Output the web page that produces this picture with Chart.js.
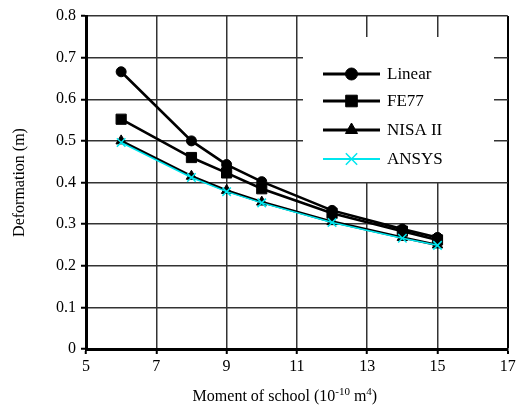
<!DOCTYPE html>
<html lang="en">
<head>
  <meta charset="UTF-8">
  <title>Deformation vs moment</title>
  <style>
    html, body {
      margin: 0;
      padding: 0;
      background: #ffffff;
    }
    #wrap {
      width: 516px;
      height: 407px;
    }
  </style>
  <script src="https://cdn.jsdelivr.net/npm/chart.js"></script>
</head>
<body>
  <div id="wrap"><canvas id="chart" width="516" height="407"></canvas></div>

  <script>
    // values
    const moments = [6, 8, 9, 10, 12, 14, 15];
    const linearDef = [0.666, 0.5, 0.443, 0.402, 0.333, 0.288, 0.268];
    const fe77Def = [0.552, 0.46, 0.423, 0.385, 0.326, 0.283, 0.262];
    const nisaDef = [0.5, 0.415, 0.381, 0.353, 0.306, 0.268, 0.25];
    const ansysDef = [0.496, 0.412, 0.378, 0.351, 0.304, 0.266, 0.249];
    const xTicks = [5, 7, 9, 11, 13, 15, 17];
    const yTicks = [0, 0.1, 0.2, 0.3, 0.4, 0.5, 0.6, 0.7, 0.8];
    // x title pieces: [text, superscript?]
    const xTitle = [['Moment of school (10', false], ['-10', true], [' m', false], ['4', true], [')', false]];

    const serif = "'Liberation Serif', 'Times New Roman', serif";
    const cyan = '#00e6ee';

    const toPoints = ys => moments.map((m, i) => ({ x: m, y: ys[i] }));

    const series = [
      { label: 'Linear', data: linearDef, color: '#000', style: 'circle', radius: 5, width: 2.6 },
      { label: 'FE77', data: fe77Def, color: '#000', style: 'rect', radius: 7.2, width: 2.6 },
      { label: 'NISA II', data: nisaDef, color: '#000', style: 'triangle', radius: 6, width: 2.6 },
      { label: 'ANSYS', data: ansysDef, color: cyan, style: 'crossRot', radius: 6, width: 1.5 }
    ];

    // legend box sits inside the plot, upper right
    const boxLegend = {
      id: 'boxLegend',
      beforeDatasetsDraw(chart) {
        const ctx = chart.ctx;
        const a = chart.chartArea;
        ctx.save();
        ctx.fillStyle = '#fff';
        ctx.fillRect(a.left + 217, a.top + 21, 191, 145);
        ctx.restore();
      },
      afterDraw(chart) {
        const ctx = chart.ctx;
        const a = chart.chartArea;
        const x0 = a.left + 237, x1 = a.left + 294, tx = a.left + 301;
        const rows = [58, 85, 114, 143];
        ctx.save();
        series.forEach((s, i) => {
          const y = a.top + rows[i];
          ctx.strokeStyle = s.color;
          ctx.lineWidth = s.width + 0.4;
          ctx.beginPath();
          ctx.moveTo(x0, y);
          ctx.lineTo(x1, y);
          ctx.stroke();
          ctx.fillStyle = s.color;
          ctx.lineWidth = s.style === 'crossRot' ? 1.5 : 1;
          Chart.helpers.drawPoint(ctx, {
            pointStyle: s.style,
            radius: s.style === 'crossRot' ? 8 : s.radius + 1,
            rotation: 0,
            borderWidth: ctx.lineWidth
          }, (x0 + x1) / 2, y);
          ctx.fillStyle = '#000';
          ctx.font = '17px ' + serif;
          ctx.textAlign = 'left';
          ctx.textBaseline = 'middle';
          ctx.fillText(s.label, tx, y + 1);
        });

        // x axis title with real superscripts
        const big = '16px ' + serif, small = '11px ' + serif;
        let w = 0;
        xTitle.forEach(([t, sup]) => { ctx.font = sup ? small : big; w += ctx.measureText(t).width; });
        let x = (a.left + a.right) / 2 - 12 - w / 2;
        const base = a.bottom + 52;
        ctx.textBaseline = 'alphabetic';
        xTitle.forEach(([t, sup]) => {
          ctx.font = sup ? small : big;
          ctx.fillText(t, x, sup ? base - 6 : base);
          x += ctx.measureText(t).width;
        });
        ctx.restore();
      }
    };

    new Chart(document.getElementById('chart'), {
      type: 'line',
      data: {
        datasets: series.map((s, i) => ({
          label: s.label,
          data: toPoints(s.data),
          borderColor: s.color,
          backgroundColor: s.color,
          borderWidth: s.width,
          pointStyle: s.style,
          pointRadius: s.radius,
          pointBorderWidth: s.style === 'crossRot' ? 1.5 : 1,
          pointBorderColor: s.color,
          pointBackgroundColor: s.color,
          tension: 0,
          order: i === 3 ? 0 : 1
        }))
      },
      options: {
        responsive: false,
        animation: false,
        layout: { padding: { left: 0, top: 16, right: 4, bottom: 0 } },
        plugins: {
          legend: { display: false },
          tooltip: { enabled: false }
        },
        scales: {
          x: {
            type: 'linear',
            min: 5,
            max: 17,
            afterBuildTicks: axis => { axis.ticks = xTicks.map(v => ({ value: v })); },
            afterFit: axis => { axis.height = 58; axis.paddingRight = 0; axis.paddingLeft = 0; },
            ticks: {
              font: { family: serif, size: 16 },
              color: '#000',
              padding: 3
            },
            grid: {
              color: ctx => (ctx.tick && ctx.tick.value === 17) ? '#000' : '#333',
              lineWidth: ctx => (ctx.tick && ctx.tick.value === 17) ? 2 : 1.5,
              tickLength: 5,
              tickColor: '#000',
              tickWidth: 2
            },
            border: { color: '#000', width: 3 }
          },
          y: {
            min: 0,
            max: 0.8,
            afterBuildTicks: axis => { axis.ticks = yTicks.map(v => ({ value: v })); },
            afterFit: axis => { axis.width = 86; },
            ticks: {
              font: { family: serif, size: 16 },
              color: '#000',
              padding: 5,
              callback: v => String(Math.round(v * 10) / 10)
            },
            grid: {
              color: '#333',
              lineWidth: 1.5,
              tickLength: 5,
              tickColor: '#000',
              tickWidth: 2
            },
            border: { color: '#000', width: 3 },
            title: {
              display: true,
              text: 'Deformation (m)',
              font: { family: serif, size: 16 },
              color: '#000',
              padding: { top: 10, bottom: 10 }
            }
          }
        }
      },
      plugins: [boxLegend]
    });
  </script>
</body>
</html>
